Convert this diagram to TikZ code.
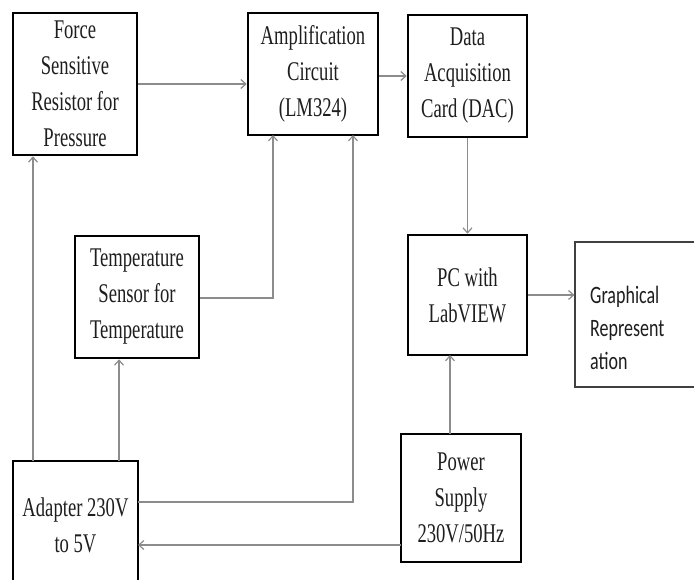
\documentclass[tikz,border=0pt]{standalone}
\usepackage{fontspec}
\usetikzlibrary{arrows.meta}
\newfontfamily\tnr[FakeStretch=0.69]{Liberation Serif}
\newfontfamily\crl[FakeStretch=0.72]{Carlito}
\definecolor{linegray}{HTML}{8C8C8C}
\definecolor{txtgray}{HTML}{1E1E1E}
\begin{document}
\begin{tikzpicture}[x=1pt,y=-1pt,
  blk/.style={draw=black, line width=2.6pt, inner sep=0pt, align=center,
    text=txtgray, font=\tnr\fontsize{27}{36}\selectfont},
  thinbox/.style={draw=black!75, line width=1.2pt, inner sep=0pt},
  conn/.style={draw=linegray, line width=1.4pt, -{Straight Barb[length=5pt,width=9pt,line width=1.2pt]}},
  wire/.style={draw=linegray, line width=1.4pt}]
\useasboundingbox (0,0) rectangle (694,579);
\clip (0,0) rectangle (694,579);
\fill[white] (0,0) rectangle (694,579);
% boxes
\node[blk, minimum width=124pt, minimum height=142pt] (force) at (75,84) {Force\\Sensitive\\Resistor for\\Pressure};
\node[blk, minimum width=130pt, minimum height=122pt] (amp) at (313,74) {Amplification\\Circuit\\(LM324)};
\node[blk, minimum width=119pt, minimum height=122pt] (dac) at (467.5,76) {Data\\Acquisition\\Card (DAC)};
\node[blk, minimum width=119pt, minimum height=120pt] (pc) at (467.5,295) {PC with\\LabVIEW};
\node[thinbox, minimum width=125pt, minimum height=145pt] (graph) at (637.5,314.5) {};
\node[anchor=west, align=left, inner sep=0pt, text=txtgray, font=\crl\fontsize{25}{33}\selectfont] (graphtxt) at (590,328) {Graphical\\Represent\\ation};
\node[blk, minimum width=124pt, minimum height=122pt] (temp) at (137,297) {Temperature\\Sensor for\\Temperature};
\node[blk, minimum width=125pt, minimum height=129pt] (adapter) at (75.5,525.5) {Adapter 230V\\to 5V};
\node[blk, minimum width=120pt, minimum height=128pt] (power) at (461,498) {Power\\Supply\\230V/50Hz};
% helper coordinates
\coordinate (aTop1) at (33,461);
\coordinate (aTop2) at (119,461);
\coordinate (aOut) at (138,502);
\coordinate (ampIn1) at (273,135);
\coordinate (ampIn2) at (353,135);
\coordinate (pOut) at (450,434);
\coordinate (pIn) at (450,355);
\coordinate (pLeft) at (401,545);
\coordinate (aIn) at (138,545);
% connectors
\draw[conn] (force.east) -- (force.east -| amp.west);
\draw[conn] (amp.east |- dac.west) -- (dac.west);
\draw[conn] (dac.south) -- (pc.north);
\draw[conn] (pc.east) -- (graph.west |- pc.east);
\draw[conn] (pOut) -- (pIn);
\draw[conn] (pLeft) -- (aIn);
\draw[conn] (aOut) -| (ampIn2);
\draw[conn] (temp.east |- 0,298) -| (ampIn1);
\draw[conn] (aTop1) -- (aTop1 |- force.south);
\draw[conn] (aTop2) -- (aTop2 |- temp.south);
\end{tikzpicture}
\end{document}
